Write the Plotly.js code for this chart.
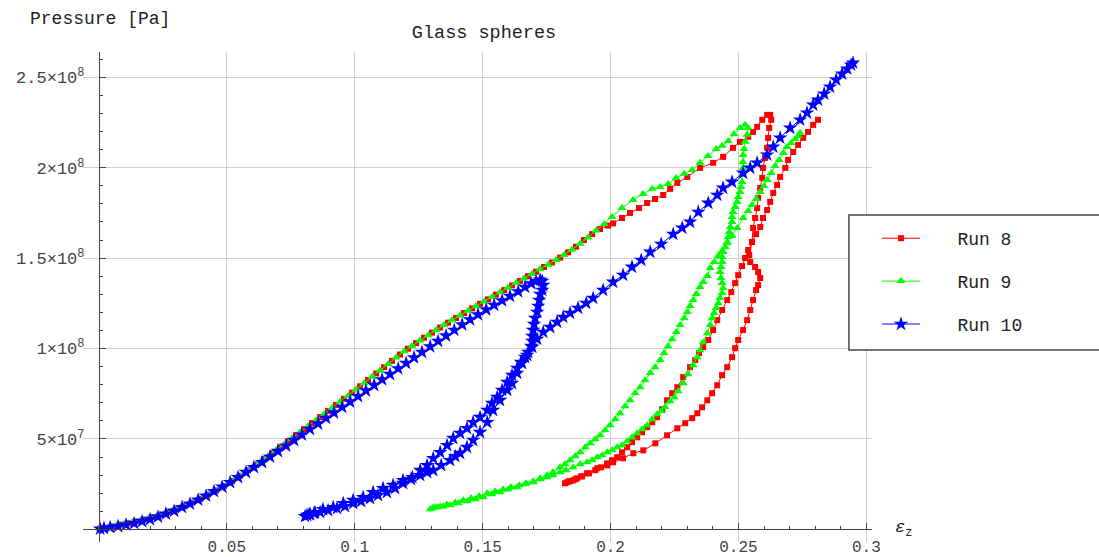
<!DOCTYPE html>
<html><head><meta charset="utf-8">
<script src="https://cdn.plot.ly/plotly-3.0.1.min.js"></script>
<style>html,body{margin:0;padding:0;background:#fff}#chart{width:1099px;height:557px}</style>
</head><body><div id="chart"></div>
<script>
// strain (eps_z) , pressure in MPa (axis labels show Pa)
const run8Loading = [[0.0005,0.3],[0.0020,0.8],[0.0052,1.6],[0.0083,2.6],[0.0114,3.4],[0.0145,4.4],[0.0177,5.4],[0.0208,6.6],[0.0239,7.9],[0.0271,9.4],[0.0302,11.0],[0.0333,12.9],[0.0364,14.8],[0.0396,16.9],[0.0427,19.2],[0.0458,21.5],[0.0489,24.0],[0.0521,26.7],[0.0552,29.6],[0.0583,32.6],[0.0615,35.7],[0.0646,38.8],[0.0677,42.1],[0.0708,45.4],[0.0740,48.8],[0.0771,52.1],[0.0802,55.4],[0.0833,58.8],[0.0865,62.1],[0.0896,65.5],[0.0927,68.8],[0.0958,72.2],[0.0990,75.6],[0.1021,79.1],[0.1052,82.6],[0.1084,86.2],[0.1115,89.7],[0.1146,93.2],[0.1177,96.7],[0.1208,99.9],[0.1240,103.0],[0.1271,106.0],[0.1302,108.8],[0.1334,111.6],[0.1365,114.3],[0.1396,116.9],[0.1427,119.6],[0.1459,122.2],[0.1490,124.7],[0.1521,127.2],[0.1552,129.8],[0.1584,132.3],[0.1615,134.9],[0.1646,137.4],[0.1677,140.0],[0.1709,142.5],[0.1740,145.1],[0.1771,147.6],[0.1803,150.3],[0.1834,153.2],[0.1865,156.3],[0.1896,160.0],[0.1928,163.3],[0.1959,166.1],[0.1990,168.0],[0.2010,169.2],[0.2045,172.2],[0.2076,175.0],[0.2111,177.7],[0.2143,180.5],[0.2174,182.7],[0.2206,184.9],[0.2233,188.3],[0.2261,191.6],[0.2300,194.9],[0.2350,199.9],[0.2401,202.7],[0.2440,206.0],[0.2479,211.0],[0.2506,214.3],[0.2538,217.1],[0.2557,219.8],[0.2573,222.6],[0.2593,226.5],[0.2612,229.2],[0.2624,229.2],[0.2628,226.5]];
const run8Unloading = [[0.2620,222.0],[0.2616,216.5],[0.2612,211.0],[0.2604,205.4],[0.2596,199.9],[0.2593,194.4],[0.2585,188.8],[0.2577,183.3],[0.2573,177.7],[0.2565,172.2],[0.2557,166.7],[0.2553,158.9],[0.2542,151.7],[0.2546,147.8],[0.2565,145.1],[0.2577,142.3],[0.2585,139.0],[0.2577,135.1],[0.2569,132.3],[0.2557,126.8],[0.2546,121.3],[0.2534,115.7],[0.2518,110.2],[0.2499,104.7],[0.2487,100.2],[0.2475,95.2],[0.2456,89.7],[0.2436,85.3],[0.2417,79.7],[0.2397,75.3],[0.2378,71.4],[0.2358,67.5],[0.2339,64.2],[0.2319,61.5],[0.2292,58.7],[0.2261,55.9],[0.2221,52.0],[0.2175,47.6],[0.2128,43.7],[0.2089,42.1],[0.2049,39.3],[0.2010,37.1],[0.1987,35.4],[0.1948,33.8],[0.1908,31.0],[0.1885,29.3],[0.1869,28.2],[0.1854,27.1],[0.1842,26.6],[0.1830,26.0],[0.1822,25.5]];
const run8Reloading = [[0.1838,26.6],[0.1862,27.7],[0.1889,29.3],[0.1916,31.0],[0.1940,32.7],[0.1963,34.3],[0.1987,36.5],[0.2006,38.2],[0.2026,39.9],[0.2045,42.6],[0.2065,45.4],[0.2084,48.2],[0.2104,50.9],[0.2123,53.7],[0.2143,56.5],[0.2163,59.2],[0.2182,62.0],[0.2202,66.4],[0.2221,71.4],[0.2241,75.3],[0.2261,78.6],[0.2284,84.2],[0.2311,89.7],[0.2331,93.6],[0.2346,97.5],[0.2362,100.8],[0.2382,104.7],[0.2401,110.2],[0.2417,115.7],[0.2436,121.3],[0.2456,126.8],[0.2472,131.2],[0.2487,136.2],[0.2499,140.6],[0.2514,145.6],[0.2526,150.1],[0.2538,154.5],[0.2553,158.9],[0.2569,163.3],[0.2585,167.2],[0.2596,172.2],[0.2612,176.6],[0.2624,181.1],[0.2636,186.0],[0.2651,190.5],[0.2663,194.9],[0.2683,199.9],[0.2694,204.3],[0.2714,208.7],[0.2733,212.6],[0.2753,216.5],[0.2772,219.8],[0.2792,223.7],[0.2811,226.5]];

const run9Loading = [[0.0005,0.4],[0.0036,1.2],[0.0067,2.1],[0.0098,3.0],[0.0130,3.9],[0.0161,4.9],[0.0192,6.0],[0.0224,7.3],[0.0255,8.6],[0.0286,10.1],[0.0317,11.9],[0.0349,13.8],[0.0380,15.8],[0.0411,18.0],[0.0443,20.3],[0.0474,22.8],[0.0505,25.4],[0.0536,28.2],[0.0568,31.1],[0.0599,34.1],[0.0630,37.2],[0.0661,40.4],[0.0693,43.7],[0.0724,47.1],[0.0755,50.4],[0.0787,53.8],[0.0818,57.1],[0.0849,60.4],[0.0880,63.7],[0.0912,67.2],[0.0943,70.5],[0.0974,73.9],[0.1005,77.4],[0.1037,80.8],[0.1068,84.4],[0.1099,87.9],[0.1130,91.5],[0.1162,95.0],[0.1193,98.3],[0.1224,101.4],[0.1255,104.5],[0.1287,107.4],[0.1318,110.2],[0.1349,113.0],[0.1380,115.6],[0.1412,118.3],[0.1443,120.9],[0.1474,123.4],[0.1506,126.0],[0.1537,128.5],[0.1568,131.1],[0.1599,133.6],[0.1631,136.2],[0.1662,138.7],[0.1693,141.2],[0.1724,143.8],[0.1756,146.3],[0.1787,149.0],[0.1818,151.7],[0.1849,154.7],[0.1881,157.9],[0.1912,161.4],[0.1943,165.3],[0.1975,168.9],[0.2006,172.8],[0.2045,177.7],[0.2088,182.2],[0.2127,185.5],[0.2163,188.3],[0.2194,189.4],[0.2225,191.0],[0.2256,194.3],[0.2288,196.6],[0.2319,198.8],[0.2350,202.7],[0.2381,206.5],[0.2413,210.4],[0.2436,212.1],[0.2460,214.8],[0.2483,218.7],[0.2506,222.0],[0.2526,223.7]];
const run9Unloading = [[0.2538,222.0],[0.2534,218.2],[0.2526,214.3],[0.2522,210.4],[0.2518,207.1],[0.2518,203.2],[0.2518,199.9],[0.2514,196.0],[0.2514,192.1],[0.2510,189.4],[0.2506,186.6],[0.2499,183.8],[0.2495,181.1],[0.2487,178.3],[0.2479,175.5],[0.2475,172.8],[0.2475,170.0],[0.2468,167.2],[0.2464,164.4],[0.2460,161.7],[0.2456,158.9],[0.2448,156.1],[0.2440,153.4],[0.2436,150.6],[0.2436,147.8],[0.2432,145.1],[0.2428,142.3],[0.2432,139.0],[0.2436,136.2],[0.2440,133.4],[0.2436,130.7],[0.2428,127.9],[0.2421,125.1],[0.2413,122.4],[0.2405,119.6],[0.2397,116.8],[0.2389,113.0],[0.2378,108.5],[0.2362,103.5],[0.2350,99.1],[0.2339,95.2],[0.2323,90.8],[0.2303,85.8],[0.2284,80.8],[0.2264,76.4],[0.2249,73.1],[0.2233,70.9],[0.2213,67.6],[0.2198,65.3],[0.2182,63.7],[0.2163,60.9],[0.2143,57.6],[0.2124,55.4],[0.2104,53.2],[0.2084,50.9],[0.2065,48.7],[0.2045,46.5],[0.2026,45.4],[0.2006,43.7],[0.1987,42.6],[0.1967,41.0],[0.1948,39.9],[0.1928,38.2],[0.1908,37.1],[0.1881,36.0],[0.1854,34.3],[0.1826,32.7],[0.1803,31.6],[0.1775,29.9],[0.1752,28.8],[0.1725,27.7],[0.1697,26.0],[0.1666,24.9],[0.1635,23.3],[0.1600,22.1],[0.1568,20.5],[0.1537,19.4],[0.1502,17.7],[0.1471,16.6],[0.1440,15.5],[0.1405,14.4],[0.1373,13.3],[0.1346,12.7],[0.1322,12.2],[0.1303,11.6],[0.1295,11.1]];
const run9Reloading = [[0.1311,12.2],[0.1334,12.7],[0.1361,13.8],[0.1393,14.9],[0.1424,16.1],[0.1455,17.2],[0.1486,18.3],[0.1518,19.9],[0.1549,21.0],[0.1580,22.1],[0.1611,23.3],[0.1643,24.4],[0.1670,25.5],[0.1697,26.6],[0.1725,28.2],[0.1752,29.9],[0.1775,31.6],[0.1803,34.3],[0.1822,36.0],[0.1842,38.2],[0.1862,40.4],[0.1881,42.6],[0.1901,45.4],[0.1920,47.6],[0.1940,49.8],[0.1959,52.0],[0.1979,54.8],[0.1998,57.6],[0.2018,60.9],[0.2037,64.2],[0.2057,68.1],[0.2076,71.4],[0.2096,75.3],[0.2116,78.6],[0.2135,82.5],[0.2155,86.4],[0.2174,89.7],[0.2194,93.6],[0.2209,97.5],[0.2225,101.3],[0.2241,105.2],[0.2257,109.1],[0.2272,113.0],[0.2288,116.8],[0.2300,120.2],[0.2311,123.5],[0.2323,126.8],[0.2335,130.1],[0.2350,134.0],[0.2362,136.8],[0.2378,140.1],[0.2389,144.5],[0.2405,147.8],[0.2421,151.2],[0.2436,153.9],[0.2456,158.4],[0.2475,162.2],[0.2495,166.7],[0.2518,172.2],[0.2538,176.1],[0.2553,179.4],[0.2569,182.7],[0.2585,186.6],[0.2600,189.9],[0.2612,193.2],[0.2628,197.1],[0.2643,201.0],[0.2659,204.3],[0.2675,208.2],[0.2690,211.5],[0.2706,213.7],[0.2722,215.9],[0.2733,217.6],[0.2741,219.3]];

const run10Loading = [[0.0005,0.3],[0.0020,0.6],[0.0044,1.1],[0.0075,1.7],[0.0106,2.5],[0.0138,3.3],[0.0169,4.4],[0.0200,5.5],[0.0231,6.9],[0.0262,8.6],[0.0294,10.2],[0.0325,12.2],[0.0356,14.1],[0.0388,16.3],[0.0419,18.5],[0.0450,21.0],[0.0482,23.5],[0.0513,26.0],[0.0544,28.8],[0.0575,31.6],[0.0606,34.3],[0.0638,37.1],[0.0669,40.1],[0.0700,43.2],[0.0732,46.2],[0.0763,49.3],[0.0794,52.3],[0.0825,55.4],[0.0857,58.4],[0.0888,61.5],[0.0919,64.5],[0.0951,67.6],[0.0982,70.6],[0.1013,73.6],[0.1044,76.7],[0.1076,79.7],[0.1107,82.8],[0.1138,85.8],[0.1170,88.9],[0.1201,91.9],[0.1232,95.0],[0.1263,98.0],[0.1295,101.1],[0.1326,104.1],[0.1357,107.1],[0.1389,110.2],[0.1420,113.2],[0.1451,116.0],[0.1482,118.8],[0.1514,121.5],[0.1545,124.0],[0.1576,126.5],[0.1607,129.0],[0.1639,131.5],[0.1666,134.0],[0.1690,135.9],[0.1709,137.3],[0.1725,137.9],[0.1733,137.3],[0.1737,135.1],[0.1733,132.3]];
const run10Unloading = [[0.1725,130.1],[0.1721,126.8],[0.1717,123.5],[0.1713,120.2],[0.1705,116.8],[0.1701,113.5],[0.1697,110.2],[0.1694,106.9],[0.1694,104.1],[0.1690,101.3],[0.1678,98.0],[0.1666,95.2],[0.1650,92.5],[0.1635,89.1],[0.1615,85.3],[0.1596,81.4],[0.1576,77.0],[0.1557,73.1],[0.1537,69.8],[0.1518,65.9],[0.1490,62.0],[0.1463,59.2],[0.1439,55.9],[0.1412,53.2],[0.1385,50.4],[0.1361,46.5],[0.1334,42.6],[0.1307,39.3],[0.1283,35.4],[0.1256,32.7],[0.1225,28.8],[0.1189,27.1],[0.1150,24.4],[0.1111,22.7],[0.1072,20.5],[0.1033,17.7],[0.0994,16.1],[0.0955,14.4],[0.0916,12.2],[0.0876,11.1],[0.0845,9.4],[0.0826,8.3],[0.0814,7.8],[0.0806,7.2]];
const run10Reloading = [[0.0822,8.3],[0.0841,8.9],[0.0865,9.4],[0.0896,10.5],[0.0931,11.6],[0.0962,12.7],[0.0994,14.4],[0.1025,15.5],[0.1060,17.2],[0.1091,18.8],[0.1126,20.5],[0.1158,22.7],[0.1189,25.5],[0.1220,27.7],[0.1256,29.9],[0.1283,31.6],[0.1307,32.7],[0.1338,35.4],[0.1373,38.2],[0.1393,40.4],[0.1412,42.1],[0.1439,45.4],[0.1463,49.3],[0.1490,53.7],[0.1518,59.2],[0.1541,65.9],[0.1568,71.4],[0.1596,77.0],[0.1615,80.8],[0.1635,86.4],[0.1654,91.9],[0.1674,96.3],[0.1694,100.8],[0.1713,105.2],[0.1737,109.1],[0.1764,111.8],[0.1791,114.6],[0.1815,117.4],[0.1842,119.6],[0.1873,122.4],[0.1905,125.1],[0.1932,127.9],[0.1971,132.3],[0.2010,136.8],[0.2049,140.6],[0.2084,145.1],[0.2120,148.9],[0.2155,153.4],[0.2198,157.8],[0.2245,163.3],[0.2280,166.7],[0.2311,170.0],[0.2343,175.5],[0.2382,180.5],[0.2417,184.9],[0.2440,188.8],[0.2475,192.1],[0.2518,197.1],[0.2546,199.9],[0.2573,202.7],[0.2612,207.1],[0.2636,211.5],[0.2663,216.5],[0.2702,222.0],[0.2741,226.5],[0.2768,230.3],[0.2792,234.8],[0.2811,237.5],[0.2835,240.9],[0.2858,244.7],[0.2882,248.6],[0.2905,251.9],[0.2925,254.7],[0.2940,256.9],[0.2948,258.0]];

const xTickVals = [0.05, 0.1, 0.15, 0.2, 0.25, 0.3];
const xTickText = ['0.05', '0.1', '0.15', '0.2', '0.25', '0.3'];
const yTickVals = [50, 100, 150, 200, 250];
const yTickText = ['5\u00d710<sup>7</sup>', '1\u00d710<sup>8</sup>', '1.5\u00d710<sup>8</sup>', '2\u00d710<sup>8</sup>', '2.5\u00d710<sup>8</sup>'];
const runNames = ['Run 8', 'Run 9', 'Run 10'];

const MONO = 'Liberation Mono, DejaVu Sans Mono, monospace';
const PAD = '\u00a0\u00a0\u00a0';

function makeTrace(name, parts, color, symbol, size, group) {
  const pts = [].concat(...parts);
  return {
    type: 'scatter', mode: 'lines+markers', name: PAD + name, legendgroup: group,
    x: pts.map(p => p[0]), y: pts.map(p => p[1]),
    line: {color: color, width: 1},
    marker: {symbol: symbol, size: size, color: color, line: {width: 0}},
    hoverinfo: 'skip'
  };
}

const traces = [
  makeTrace(runNames[0], [run8Loading, run8Unloading, run8Reloading], '#ff0000', 'square', 6, 'g8'),
  makeTrace(runNames[1], [run9Loading, run9Unloading, run9Reloading], '#00ff00', 'triangle-up', 8, 'g9'),
  makeTrace(runNames[2], [run10Loading, run10Unloading, run10Reloading], '#0000ff', 'star', 11, 'g10')
];

const axisCommon = {
  anchor: 'free', showline: true, linecolor: '#444', linewidth: 1,
  ticks: 'inside', ticklen: 6, tickwidth: 1, tickcolor: '#444',
  tickmode: 'array', showgrid: true, gridcolor: '#cfcfcf', gridwidth: 1,
  zeroline: false, fixedrange: true, mirror: false
};

const layout = {
  width: 1099, height: 557,
  margin: {l: 83, r: 227, t: 52, b: 15, pad: 0},
  paper_bgcolor: '#ffffff', plot_bgcolor: '#ffffff',
  font: {family: MONO, color: '#222'},
  showlegend: true,
  title: {text: 'Glass spheres', font: {family: MONO, size: 18.5, color: '#222'},
          xref: 'container', x: 0.4404, xanchor: 'center', yref: 'container', y: 0.944, yanchor: 'middle'},
  xaxis: Object.assign({}, axisCommon, {
    range: [-0.0062, 0.3022], position: 0.02583,
    tickvals: xTickVals, ticktext: xTickText, ticklabelstandoff: 2,
    tickfont: {family: MONO, size: 16, color: '#444'},
    minor: {tickmode: 'linear', tick0: 0, dtick: 0.01, ticks: 'inside', ticklen: 3.5, tickcolor: '#444', tickwidth: 1, showgrid: false}
  }),
  yaxis: Object.assign({}, axisCommon, {
    range: [-7, 264], position: 0.0201,
    tickvals: yTickVals, ticktext: yTickText, ticklabelstandoff: 11,
    tickfont: {family: MONO, size: 17, color: '#444'},
    minor: {tickmode: 'linear', tick0: 0, dtick: 10, ticks: 'inside', ticklen: 3.5, tickcolor: '#444', tickwidth: 1, showgrid: false}
  }),
  legend: {x: 1.0063, xanchor: 'left', y: 0.6571, yanchor: 'top', bgcolor: 'rgba(0,0,0,0)', borderwidth: 0,
           font: {family: MONO, size: 18, color: '#222'}, itemwidth: 38, tracegroupgap: 16.5, traceorder: 'grouped'},
  shapes: [{type: 'rect', xref: 'paper', yref: 'paper', x0: 0.9708, x1: 1.4, y0: 0.3918, y1: 0.6673,
            line: {color: '#444', width: 1.5}, fillcolor: '#ffffff', layer: 'above'}],
  annotations: [
    {text: 'Pressure [Pa]', xref: 'paper', yref: 'paper', x: -0.0697, y: 1.067, xanchor: 'left', yanchor: 'middle',
     showarrow: false, font: {family: MONO, size: 18, color: '#222'}},
    {text: '<i>\u03b5</i><sub>z</sub>', xref: 'paper', yref: 'paper', x: 1.0266, y: 0.0265, xanchor: 'left', yanchor: 'middle',
     showarrow: false, font: {family: MONO, size: 17, color: '#222'}}
  ]
};

Plotly.newPlot('chart', traces, layout, {displayModeBar: false, staticPlot: true});
</script></body></html>
